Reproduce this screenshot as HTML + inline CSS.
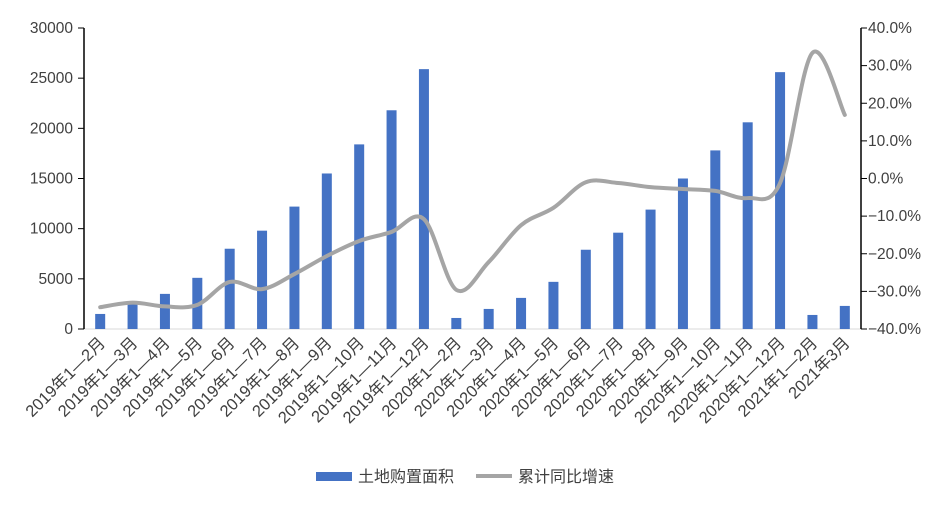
<!DOCTYPE html>
<html><head><meta charset="utf-8"><style>
body{margin:0;background:#fff;}
svg text{font-family:"Liberation Sans","Noto Sans CJK SC",sans-serif;fill:#404040;}
</style></head><body>
<svg width="946" height="508" viewBox="0 0 946 508" xmlns="http://www.w3.org/2000/svg" id="s">
<rect width="946" height="508" fill="#fff"/>
<line x1="84" y1="329" x2="861" y2="329" stroke="#d9d9d9" stroke-width="1"/>
<g id="bars" fill="#4472c4"></g>
<path id="ln" fill="none" stroke="#a5a5a5" stroke-width="4" stroke-linecap="round"/>
<line x1="84" y1="28" x2="84" y2="329" stroke="#000" stroke-width="1.5"/>
<line x1="861" y1="28" x2="861" y2="329" stroke="#000" stroke-width="1.5"/>
<g id="ax" font-size="15.5"></g>
<rect x="316" y="472" width="36" height="9" fill="#4472c4"/>
<text x="358" y="482" font-size="16" fill="#404040">土地购置面积</text>
<line x1="476" y1="476" x2="512" y2="476" stroke="#a5a5a5" stroke-width="4"/>
<text x="518" y="482" font-size="16" fill="#404040">累计同比增速</text>
</svg>
<script>
var ns="http://www.w3.org/2000/svg";
var bars=[1500,2500,3500,5100,8000,9800,12200,15500,18400,21800,25900,1100,2000,3100,4700,7900,9600,11900,15000,17800,20600,25600,1400,2300];
var pct=[-34.2,-33,-34,-33.6,-27.5,-29.4,-25.4,-20.6,-16.6,-14.2,-10.8,-29.6,-22.2,-12.4,-7.8,-1,-1.2,-2.3,-2.8,-3.3,-5.2,-1.2,33.4,16.9];
var labels=[];
for(var i=2;i<=12;i++)labels.push("2019年1—"+i+"月");
for(var i=2;i<=12;i++)labels.push("2020年1—"+i+"月");
labels.push("2021年1—2月");labels.push("2021年3月");
var step=777/24;
function cx(i){return 84+step*(i+0.5);}
var g=document.getElementById("bars");
bars.forEach(function(v,i){var h=v/30000*301;var r=document.createElementNS(ns,"rect");
r.setAttribute("x",cx(i)-5);r.setAttribute("y",329-h);r.setAttribute("width",10);r.setAttribute("height",h);g.appendChild(r);});
var pts=pct.map(function(p,i){return [cx(i),28+(40-p)/80*301];});
var d="M"+pts[0][0]+","+pts[0][1];
for(var i=0;i<pts.length-1;i++){var p0=pts[i-1]||pts[i],p1=pts[i],p2=pts[i+1],p3=pts[i+2]||p2;
d+=" C"+(p1[0]+(p2[0]-p0[0])/6)+","+(p1[1]+(p2[1]-p0[1])/6)+" "+(p2[0]-(p3[0]-p1[0])/6)+","+(p2[1]-(p3[1]-p1[1])/6)+" "+p2[0]+","+p2[1];}
document.getElementById("ln").setAttribute("d",d);
var ax=document.getElementById("ax");
function t(x,y,s,a,tr,fs){var e=document.createElementNS(ns,"text");e.setAttribute("x",x);e.setAttribute("y",y);e.setAttribute("text-anchor",a);if(tr)e.setAttribute("transform",tr);if(fs)e.setAttribute("font-size",fs);e.textContent=s;ax.appendChild(e);}
function l(x1,y1,x2,y2){var e=document.createElementNS(ns,"line");e.setAttribute("x1",x1);e.setAttribute("y1",y1);e.setAttribute("x2",x2);e.setAttribute("y2",y2);e.setAttribute("stroke","#000");ax.appendChild(e);}
for(var k=0;k<=6;k++){var y=329-k*301/6;t(73,y+5,String(k*5000),"end");l(78,y,84,y);}
for(var k=0;k<=8;k++){var y=329-k*301/8;var v=-40+k*10;var s=(v<0?"−":"")+Math.abs(v).toFixed(1)+"%";t(868,y+5,s,"start");l(861,y,867,y);}
labels.forEach(function(s,i){var x=cx(i)+6,y=344;t(x,y,s,"end","rotate(-45 "+x+" "+y+")",16.5);});
</script>
</body></html>
